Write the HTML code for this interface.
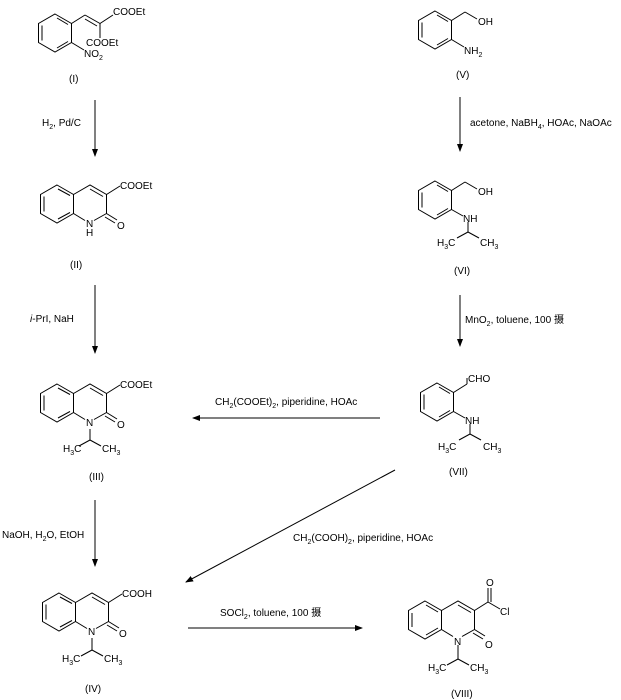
<!DOCTYPE html>
<html><head><meta charset="utf-8"><style>
html,body{margin:0;padding:0;background:#fff;}
svg{display:block;}
text{font-family:"Liberation Sans","Noto Sans CJK SC",sans-serif;font-size:10px;fill:#000;}
.sub{font-size:7px;}
</style></head><body>
<svg width="621" height="700" viewBox="0 0 621 700" xmlns="http://www.w3.org/2000/svg">
<defs>
<marker id="ah" markerWidth="8" markerHeight="6" refX="7" refY="3" orient="auto" markerUnits="userSpaceOnUse">
<path d="M0,0 L8,3 L0,6 Z" fill="#000"/>
</marker>
<g id="benz" stroke="#000" stroke-width="1" fill="none">
<polygon points="0,-19 16.5,-9.5 16.5,9.5 0,19 -16.5,9.5 -16.5,-9.5"/>
<line x1="-13" y1="-7.5" x2="-13" y2="7.5"/>
<line x1="2" y1="15" x2="13" y2="8.5"/>
<line x1="2" y1="-15" x2="13" y2="-8.5"/>
</g>
<g id="quin" stroke="#000" stroke-width="1" fill="none">
<polygon points="0,-19 16.5,-9.5 16.5,9.5 0,19 -16.5,9.5 -16.5,-9.5"/>
<line x1="-13" y1="-7.5" x2="-13" y2="7.5"/>
<line x1="1" y1="15" x2="13" y2="8.5"/>
<line x1="1" y1="-15" x2="13" y2="-8.5"/>
<polyline points="16.5,-9.5 33,-19 49.5,-9.5 49.5,9.5 37,16.5"/>
<line x1="16.5" y1="9.5" x2="28" y2="16.5"/>
<line x1="33" y1="-15" x2="46" y2="-7.5"/>
<line x1="49.5" y1="9.5" x2="60" y2="16"/>
<line x1="48" y1="13" x2="58" y2="19"/>
<line x1="49.5" y1="-9.5" x2="63" y2="-18"/>
</g>
</defs>
<g stroke="#000" stroke-width="1" fill="none">
<!-- arrows -->
<line x1="95" y1="100" x2="95" y2="156" marker-end="url(#ah)"/>
<line x1="95" y1="285" x2="95" y2="353" marker-end="url(#ah)"/>
<line x1="95" y1="500" x2="95" y2="566" marker-end="url(#ah)"/>
<line x1="460" y1="97" x2="460" y2="151" marker-end="url(#ah)"/>
<line x1="460" y1="295" x2="460" y2="346" marker-end="url(#ah)"/>
<line x1="380" y1="418" x2="193" y2="418" marker-end="url(#ah)"/>
<line x1="395" y1="470" x2="186" y2="582" marker-end="url(#ah)"/>
<line x1="188" y1="628" x2="362" y2="628" marker-end="url(#ah)"/>
</g>
<!-- I -->
<use href="#benz" x="55" y="33"/>
<g stroke="#000" fill="none">
<line x1="71.5" y1="23.5" x2="85" y2="15"/>
<line x1="85" y1="15" x2="100" y2="23.5"/><line x1="85" y1="19" x2="97" y2="26"/>
<line x1="100" y1="23.5" x2="113" y2="15"/>
<line x1="100" y1="23.5" x2="100" y2="38"/>
<line x1="71.5" y1="42.5" x2="84" y2="50"/>
</g>
<text x="113" y="15">COOEt</text>
<text x="86" y="46">COOEt</text>
<text x="84" y="57">NO<tspan class="sub" dy="3">2</tspan></text>
<text x="69" y="82">(I)</text>
<text x="42" y="126">H<tspan class="sub" dy="3">2</tspan><tspan dy="-3">, Pd/C</tspan></text>
<!-- II -->
<use href="#quin" x="57" y="204"/>
<text x="120" y="189">COOEt</text>
<text x="86" y="227">N</text><text x="86" y="236">H</text>
<text x="117" y="229">O</text>
<text x="70" y="268">(II)</text>
<text x="30" y="322"><tspan font-style="italic">i</tspan>-PrI, NaH</text>
<!-- III -->
<use href="#quin" x="57" y="403"/>
<text x="120" y="388">COOEt</text>
<text x="86" y="426">N</text>
<text x="117" y="428">O</text>
<g stroke="#000" fill="none"><line x1="90" y1="429" x2="90" y2="440"/><line x1="90" y1="440" x2="79" y2="446"/><line x1="90" y1="440" x2="101" y2="446"/></g>
<text x="63" y="452">H<tspan class="sub" dy="3">3</tspan><tspan dy="-3">C</tspan></text>
<text x="102" y="452">CH<tspan class="sub" dy="3">3</tspan></text>
<text x="89" y="480">(III)</text>
<text x="2" y="538">NaOH, H<tspan class="sub" dy="3">2</tspan><tspan dy="-3">O, EtOH</tspan></text>
<!-- IV -->
<use href="#quin" x="59" y="612"/>
<text x="122" y="597">COOH</text>
<text x="88" y="635">N</text>
<text x="119" y="637">O</text>
<g stroke="#000" fill="none"><line x1="92" y1="638" x2="92" y2="650"/><line x1="92" y1="650" x2="81" y2="656"/><line x1="92" y1="650" x2="103" y2="656"/></g>
<text x="62" y="662">H<tspan class="sub" dy="3">3</tspan><tspan dy="-3">C</tspan></text>
<text x="104" y="662">CH<tspan class="sub" dy="3">3</tspan></text>
<text x="85" y="692">(IV)</text>
<!-- V -->
<use href="#benz" x="435" y="30"/>
<g stroke="#000" fill="none"><line x1="451.5" y1="20.5" x2="465" y2="12"/><line x1="465" y1="12" x2="477" y2="19"/><line x1="451.5" y1="39.5" x2="464" y2="47"/></g>
<text x="478" y="25">OH</text>
<text x="464" y="54">NH<tspan class="sub" dy="3">2</tspan></text>
<text x="456" y="78">(V)</text>
<text x="470" y="126">acetone, NaBH<tspan class="sub" dy="3">4</tspan><tspan dy="-3">, HOAc, NaOAc</tspan></text>
<!-- VI -->
<use href="#benz" x="435" y="200"/>
<g stroke="#000" fill="none"><line x1="451.5" y1="190.5" x2="465" y2="182"/><line x1="465" y1="182" x2="477" y2="189"/><line x1="451.5" y1="209.5" x2="463" y2="216"/><line x1="468" y1="222" x2="468" y2="232"/><line x1="468" y1="232" x2="457" y2="238"/><line x1="468" y1="232" x2="479" y2="238"/></g>
<text x="478" y="195">OH</text>
<text x="463" y="222">NH</text>
<text x="437" y="246">H<tspan class="sub" dy="3">3</tspan><tspan dy="-3">C</tspan></text>
<text x="480" y="246">CH<tspan class="sub" dy="3">3</tspan></text>
<text x="454" y="274">(VI)</text>
<text x="465" y="323">MnO<tspan class="sub" dy="3">2</tspan><tspan dy="-3">, toluene, 100 摄</tspan></text>
<!-- VII -->
<use href="#benz" x="437" y="402"/>
<g stroke="#000" fill="none"><line x1="453.5" y1="392.5" x2="467" y2="384"/><line x1="467" y1="384" x2="467" y2="378"/><line x1="453.5" y1="411.5" x2="465" y2="418"/><line x1="470" y1="424" x2="470" y2="434"/><line x1="470" y1="434" x2="459" y2="440"/><line x1="470" y1="434" x2="481" y2="440"/></g>
<text x="468" y="382">CHO</text>
<text x="465" y="424">NH</text>
<text x="438" y="450">H<tspan class="sub" dy="3">3</tspan><tspan dy="-3">C</tspan></text>
<text x="483" y="450">CH<tspan class="sub" dy="3">3</tspan></text>
<text x="449" y="475">(VII)</text>
<text x="215" y="405">CH<tspan class="sub" dy="3">2</tspan><tspan dy="-3">(COOEt)</tspan><tspan class="sub" dy="3">2</tspan><tspan dy="-3">, piperidine, HOAc</tspan></text>
<text x="293" y="541">CH<tspan class="sub" dy="3">2</tspan><tspan dy="-3">(COOH)</tspan><tspan class="sub" dy="3">2</tspan><tspan dy="-3">, piperidine, HOAc</tspan></text>
<text x="220" y="616">SOCl<tspan class="sub" dy="3">2</tspan><tspan dy="-3">, toluene, 100 摄</tspan></text>
<!-- VIII -->
<g stroke="#000" fill="none">
<polygon points="425,601 441.5,610.5 441.5,629.5 425,639 408.5,629.5 408.5,610.5"/>
<line x1="412" y1="613" x2="412" y2="627"/><line x1="426" y1="635" x2="438" y2="628"/><line x1="426" y1="605" x2="438" y2="612"/>
<polyline points="441.5,610.5 458,601 474.5,610.5 474.5,629.5 462,636.5"/>
<line x1="441.5" y1="629.5" x2="453" y2="636.5"/>
<line x1="458" y1="605" x2="471" y2="612.5"/>
<line x1="474.5" y1="629.5" x2="485" y2="636"/><line x1="473" y1="633" x2="483" y2="639"/>
<line x1="474.5" y1="610.5" x2="488" y2="602"/>
<line x1="488" y1="602" x2="488" y2="588"/><line x1="491" y1="602" x2="491" y2="588"/>
<line x1="488" y1="602" x2="500" y2="609"/>
<line x1="458" y1="645" x2="458" y2="659"/><line x1="458" y1="659" x2="447" y2="665"/><line x1="458" y1="659" x2="469" y2="665"/>
</g>
<text x="486" y="586">O</text>
<text x="500" y="615">Cl</text>
<text x="454" y="645">N</text>
<text x="485" y="648">O</text>
<text x="428" y="671">H<tspan class="sub" dy="3">3</tspan><tspan dy="-3">C</tspan></text>
<text x="470" y="671">CH<tspan class="sub" dy="3">3</tspan></text>
<text x="451" y="697">(VIII)</text>
</svg>
</body></html>
